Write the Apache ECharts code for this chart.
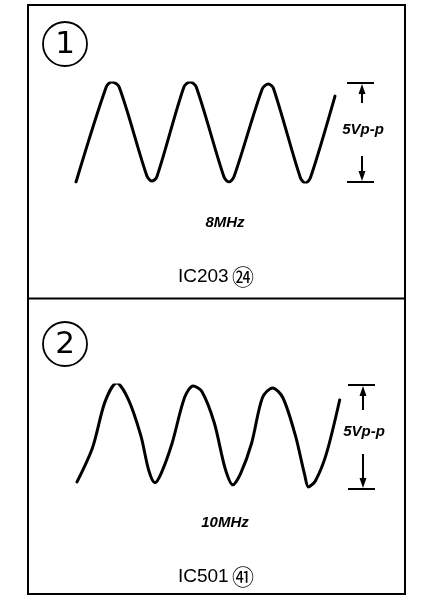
<!DOCTYPE html>
<html>
<head>
<meta charset="utf-8">
<script src="https://cdn.jsdelivr.net/npm/echarts@6/dist/echarts.min.js"></script>
<style>
html, body { margin: 0; padding: 0; background: #fff; }
#chart { width: 426px; height: 598px; }
</style>
</head>
<body>
<div id="chart"></div>
<script>
// panel 1: 8MHz waveform (time in ns, level in V)
const wave1Time = [0, 49, 58, 70, 115, 123, 131, 175, 185, 195, 240, 248, 256, 302, 312, 320, 364, 372, 380, 420]
const wave1Volt = [0.0, 4.8, 5.05, 4.8, 0.3, 0.05, 0.25, 4.8, 5.05, 4.8, 0.25, 0.0, 0.25, 4.7, 4.95, 4.75, 0.2, -0.05, 0.2, 4.34]

// panel 2: 10MHz waveform
const wave2Time = [0, 20, 36, 51, 66, 82, 92, 100, 108, 122, 138, 149, 160, 176, 190, 200, 210, 224, 238, 251, 264, 280, 292, 297, 306, 320, 337]
const wave2Volt = [0.34, 2.0, 4.2, 5.1, 4.3, 2.55, 0.9, 0.3, 0.75, 2.2, 4.4, 4.95, 4.7, 3.2, 1.0, 0.2, 0.75, 2.2, 4.4, 4.86, 4.4, 2.6, 0.7, 0.1, 0.4, 1.7, 4.28]

const panelNumbers = ['1', '2']
const freqLabels = ['8MHz', '10MHz']
const icNames = ['IC203', 'IC501']
const pinNumbers = ['㉔', '㊶']
const amplitudeLabel = '5Vp-p'
const voltRange = [0, 5]
const timeRange1 = [0, 420]
const timeRange2 = [0, 340]

const chart = echarts.init(document.getElementById('chart'))

function zip(xs, ys) {
  return xs.map((x, i) => [x, ys[i]])
}

const hiddenAxis = { show: false, splitLine: { show: false } }

chart.setOption({
  animation: false,
  backgroundColor: '#fff',
  grid: [
    { left: 76, top: 83, width: 259, height: 99 },
    { left: 77, top: 385, width: 265, height: 104 },
  ],
  xAxis: [
    { ...hiddenAxis, type: 'value', gridIndex: 0, min: timeRange1[0], max: timeRange1[1] },
    { ...hiddenAxis, type: 'value', gridIndex: 1, min: timeRange2[0], max: timeRange2[1] },
  ],
  yAxis: [
    { ...hiddenAxis, type: 'value', gridIndex: 0, min: voltRange[0], max: voltRange[1] },
    { ...hiddenAxis, type: 'value', gridIndex: 1, min: voltRange[0], max: voltRange[1] },
  ],
  series: [
    {
      type: 'line',
      xAxisIndex: 0,
      yAxisIndex: 0,
      data: zip(wave1Time, wave1Volt),
      smooth: 0.3,
      symbol: 'none',
      lineStyle: { color: '#000', width: 3, cap: 'round', join: 'round' },
    },
    {
      type: 'line',
      xAxisIndex: 1,
      yAxisIndex: 1,
      data: zip(wave2Time, wave2Volt),
      smooth: 0.3,
      symbol: 'none',
      lineStyle: { color: '#000', width: 3, cap: 'round', join: 'round' },
    },
  ],
})

// amplitude arrow, tied to the 0V / 5V levels of each grid
function arrowGraphics(gridIndex, x, gapTop, gapBottom) {
  const top = chart.convertToPixel({ gridIndex }, [0, voltRange[1]])[1]
  const bottom = chart.convertToPixel({ gridIndex }, [0, voltRange[0]])[1]
  const stroke = { stroke: '#000', lineWidth: 2 }
  return [
    { type: 'line', shape: { x1: x - 15, y1: top, x2: x + 12, y2: top }, style: stroke },
    { type: 'line', shape: { x1: x - 15, y1: bottom, x2: x + 12, y2: bottom }, style: stroke },
    { type: 'line', shape: { x1: x, y1: top + 8, x2: x, y2: gapTop }, style: stroke },
    { type: 'line', shape: { x1: x, y1: bottom - 8, x2: x, y2: gapBottom }, style: stroke },
    { type: 'polygon', shape: { points: [[x, top + 1], [x - 3.5, top + 11], [x + 3.5, top + 11]] }, style: { fill: '#000' } },
    { type: 'polygon', shape: { points: [[x, bottom - 1], [x - 3.5, bottom - 11], [x + 3.5, bottom - 11]] }, style: { fill: '#000' } },
    {
      type: 'text', x: x + 1, y: (gapTop + gapBottom) / 2,
      style: {
        text: amplitudeLabel, fill: '#000', align: 'center', verticalAlign: 'middle',
        font: 'italic bold 15px "Liberation Sans", Arial, sans-serif',
      },
    },
  ]
}

function panelGraphics(i, offsetY) {
  return [
    { type: 'circle', shape: { cx: 65, cy: offsetY + 44, r: 22 }, style: { fill: 'none', stroke: '#000', lineWidth: 1.8 } },
    {
      type: 'text', x: 65, y: offsetY + 45,
      style: {
        text: panelNumbers[i], fill: '#000', align: 'center', verticalAlign: 'middle',
        font: '31px "DejaVu Sans", sans-serif',
      },
    },
    {
      type: 'text', x: 225, y: offsetY + 223,
      style: {
        text: freqLabels[i], fill: '#000', align: 'center', verticalAlign: 'middle',
        font: 'italic bold 15px "Liberation Sans", Arial, sans-serif',
      },
    },
    {
      type: 'text', x: 216, y: offsetY + 277,
      style: {
        text: '{ic|' + icNames[i] + '} {pin|' + pinNumbers[i] + '}',
        align: 'center', verticalAlign: 'middle',
        rich: {
          ic: { fill: '#000', fontSize: 19, fontFamily: '"Liberation Sans", Arial, sans-serif' },
          pin: { fill: '#000', fontSize: 22, fontFamily: '"Noto Sans CJK JP", sans-serif' },
        },
      },
    },
  ]
}

chart.setOption({
  graphic: [
    { type: 'rect', shape: { x: 28, y: 5, width: 377, height: 589 }, style: { fill: 'none', stroke: '#000', lineWidth: 2 } },
    { type: 'line', shape: { x1: 28, y1: 298.5, x2: 405, y2: 298.5 }, style: { stroke: '#000', lineWidth: 2 } },
    ...panelGraphics(0, 0),
    ...panelGraphics(1, 300),
    ...arrowGraphics(0, 362, 103, 156),
    ...arrowGraphics(1, 363, 410, 454),
  ],
})
</script>
</body>
</html>
